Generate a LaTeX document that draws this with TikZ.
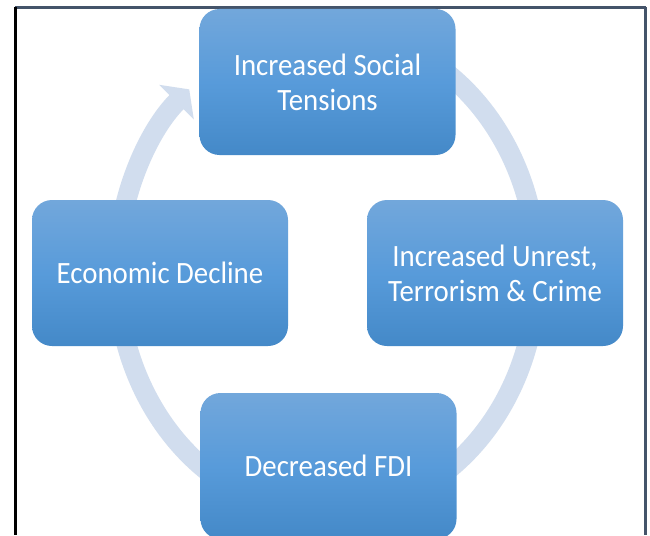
\documentclass[tikz,border=0pt]{standalone}
\usepackage{fontspec}
\setmainfont{Carlito}[FakeStretch=0.93]
\usetikzlibrary{arrows.meta}
\definecolor{ringblue}{RGB}{209,221,238}
\definecolor{boxtop}{RGB}{114,167,219}
\definecolor{boxmid}{RGB}{88,155,218}
\definecolor{boxbot}{RGB}{68,137,200}
\definecolor{framegray}{RGB}{68,84,106}
\tikzset{
  cyclebox/.style={rounded corners=20pt, minimum width=256pt, minimum height=146pt,
    inner sep=0pt, top color=boxtop, bottom color=boxbot, middle color=boxmid,
    text=white, align=center, font=\fontsize{31}{35}\selectfont},
  framerule/.style={line width=2.5pt}
}
\begin{document}
\begin{tikzpicture}[x=1pt,y=-1pt]
\useasboundingbox (0,0) rectangle (650,535);
\clip (0,0) rectangle (650,535);
\fill[white] (0,0) rectangle (650,535);
\draw[framerule, framegray] (15,7.5)--(646,7.5);
\draw[framerule, black] (15.5,7.5)--(15.5,535);
\draw[framerule, framegray] (645.5,7.5)--(645.5,535);
\draw[ringblue, line width=20pt, -{Triangle[width=48pt,length=18pt]}]
  ([shift={(80:210pt and 242pt)}]327,272) arc[start angle=80, end angle=-229, x radius=210pt, y radius=242pt];
\node[cyclebox] (tension) at (327.5,82) {Increased Social\\Tensions};
\node[cyclebox] (unrest) at (495,273) {Increased Unrest,\\Terrorism \& Crime};
\node[cyclebox] (fdi) at (328.5,466) {Decreased FDI};
\node[cyclebox] (decline) at (160,273) {Economic Decline};
\end{tikzpicture}
\end{document}
